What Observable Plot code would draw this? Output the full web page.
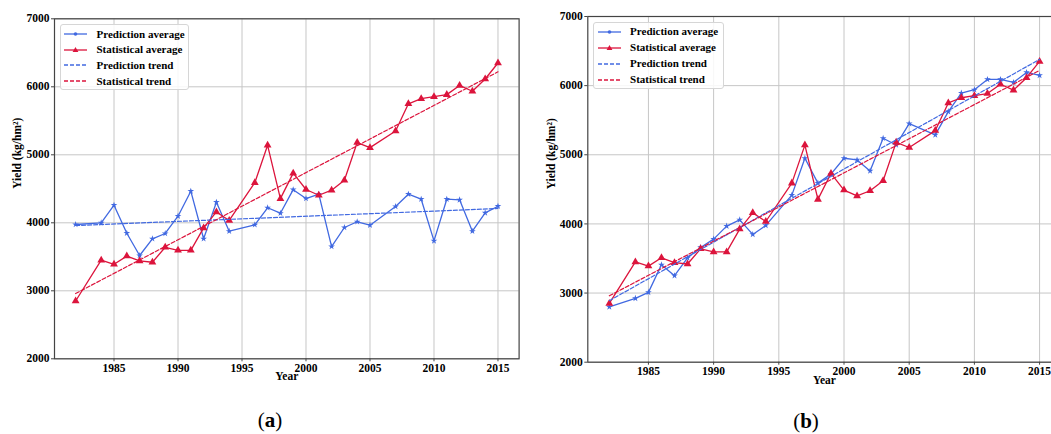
<!DOCTYPE html>
<html>
<head>
<meta charset="utf-8">
<script src="https://cdn.jsdelivr.net/npm/d3@7"></script>
<script src="https://cdn.jsdelivr.net/npm/@observablehq/plot@0.6"></script>
<style>
  html, body { margin:0; padding:0; background:#fff; overflow:hidden; }
  #root { position:relative; width:1051px; height:434px; overflow:hidden; background:#fff;
          font-family:'Liberation Serif','Times New Roman',serif; }
  .chart { position:absolute; top:0; }
  .chart svg text { font-family:'Liberation Serif','Times New Roman',serif; font-weight:bold; }
  .legend { position:absolute; border:1px solid #d6d6d6; border-radius:3px; background:rgba(255,255,255,0.85);
            box-sizing:border-box; font-weight:bold; font-size:11px; color:#000; }
  .legend .row { position:absolute; height:13px; line-height:13px; white-space:nowrap; }
  .caption { position:absolute; font-size:21px; color:#000; transform:translate(-50%,-50%); }
</style>
</head>
<body>
<div id="root"></div>
<script>
// ---- data ----
const years = [1982,1984,1985,1986,1987,1988,1989,1990,1991,1992,1993,1994,
               1996,1997,1998,1999,2000,2001,2002,2003,2004,2005,
               2007,2008,2009,2010,2011,2012,2013,2014,2015];
const statAvg = [2850,3450,3390,3510,3440,3420,3640,3595,3595,3925,4160,4035,
                 4590,5140,4355,4730,4490,4405,4480,4625,5180,5105,
                 5350,5750,5825,5855,5885,6020,5935,6115,6350];
const predAvgA = [3975,4000,4259,3847,3519,3765,3843,4097,4465,3765,4303,3876,
                  3971,4221,4141,4487,4357,4421,3651,3931,4015,3965,
                  4240,4421,4347,3735,4347,4338,3876,4147,4244];
const predAvgB = [2800,2924,3010,3410,3251,3510,3660,3780,3968,4059,3848,3978,
                  4416,4950,4590,4720,4950,4926,4767,5239,5142,5450,
                  5287,5624,5893,5941,6090,6090,6047,6191,6148];
const trendYears = [1982, 2015];
const statTrend = [2960, 6220];
const predTrendA = [3960, 4210];
const predTrendB = [2890, 6380];
const xTicks = [1985,1990,1995,2000,2005,2010,2015];
const yTicks = [2000,3000,4000,5000,6000,7000];
const legendLabels = ["Prediction average","Statistical average","Prediction trend","Statistical trend"];

const BLUE = "#4169e1", RED = "#dc143c";
const FONT = "'Liberation Serif','Times New Roman',serif";

function makeChart(pred, predTrend, o) {
  const rows = years.map((y, i) => ({year: y, pred: pred[i], stat: statAvg[i]}));
  const trend = trendYears.map((y, i) => ({year: y, pred: predTrend[i], stat: statTrend[i]}));
  return Plot.plot({
    width: o.width, height: o.height,
    marginLeft: o.ml, marginRight: o.mr, marginTop: o.mt, marginBottom: o.mb,
    style: {fontFamily: FONT, fontSize: "11px", fontWeight: "bold", color: "#000", background: "transparent", overflow: "visible"},
    x: {domain: [1980.35, 2016.65]},
    y: {domain: [2000, 7000]},
    marks: [
      Plot.gridX(xTicks, {stroke: "#c6c6c6", strokeOpacity: 1, strokeWidth: 1}),
      Plot.gridY(yTicks, {stroke: "#c6c6c6", strokeOpacity: 1, strokeWidth: 1}),
      Plot.axisX(xTicks, {tickFormat: "d", tickSize: 3, tickPadding: 2, label: null, stroke: "#444", fontSize: 11.5}),
      Plot.axisY(yTicks, {tickFormat: "d", tickSize: 3, tickPadding: 2, label: null, stroke: "#444", fontSize: 11.5}),
      Plot.line(rows, {x: "year", y: "pred", stroke: BLUE, strokeWidth: 1.3}),
      Plot.dot(rows, {x: "year", y: "pred", symbol: "star", r: 2.1, fill: BLUE}),
      Plot.line(rows, {x: "year", y: "stat", stroke: RED, strokeWidth: 1.3}),
      Plot.dot(rows, {x: "year", y: "stat", symbol: "triangle", r: 2.9, fill: RED}),
      Plot.line(trend, {x: "year", y: "pred", stroke: BLUE, strokeWidth: 1.2, strokeDasharray: "4,2"}),
      Plot.line(trend, {x: "year", y: "stat", stroke: RED, strokeWidth: 1.2, strokeDasharray: "4,2"}),
      Plot.frame({stroke: "#444", strokeWidth: 1.2}),
      Plot.text(["Year"], {frameAnchor: "bottom", dy: o.xlabDy, fontWeight: "bold", fontSize: 11.5}),
      Plot.text(["Yield (kg/hm²)"], {frameAnchor: "left", dx: o.ylabDx, rotate: -90, fontWeight: "bold", fontSize: 11.5})
    ]
  });
}

function makeLegend(box) {
  const lg = document.createElement("div");
  lg.className = "legend";
  Object.assign(lg.style, {left: box.left + "px", top: box.top + "px", width: box.w + "px", height: box.h + "px"});
  const styles = [
    {c: BLUE, dash: null, sym: "star"},
    {c: RED, dash: null, sym: "triangle"},
    {c: BLUE, dash: "4,2", sym: null},
    {c: RED, dash: "4,2", sym: null}
  ];
  legendLabels.forEach((lab, i) => {
    const cy = box.rows[i];
    const sw = document.createElementNS("http://www.w3.org/2000/svg", "svg");
    sw.setAttribute("width", 24); sw.setAttribute("height", 10);
    Object.assign(sw.style, {position: "absolute", left: box.sx + "px", top: (cy - 5) + "px", overflow: "visible"});
    const s = styles[i];
    let html = `<line x1="0" y1="5" x2="23" y2="5" stroke="${s.c}" stroke-width="1.3" ${s.dash ? `stroke-dasharray="${s.dash}"` : ""}/>`;
    if (s.sym === "star") html += `<circle cx="11.5" cy="5" r="1.8" fill="${s.c}"/>`;
    if (s.sym === "triangle") html += `<path d="M11.5,2 L14.4,7 L8.6,7 Z" fill="${s.c}"/>`;
    sw.innerHTML = html;
    lg.appendChild(sw);
    const t = document.createElement("div");
    t.className = "row";
    t.textContent = lab;
    Object.assign(t.style, {left: box.tx + "px", top: (cy - 6.5) + "px"});
    lg.appendChild(t);
  });
  return lg;
}

const root = document.getElementById("root");

const wa = document.createElement("div");
wa.className = "chart"; wa.style.left = "0px"; wa.style.width = "530px";
wa.appendChild(makeChart(predAvgA, predTrendA, {width: 530, height: 395, ml: 54, mr: 11.4, mt: 18.3, mb: 36.7, xlabDy: 21.5, ylabDx: -37}));
root.appendChild(wa);

const wb = document.createElement("div");
wb.className = "chart"; wb.style.left = "530px"; wb.style.width = "545px";
wb.appendChild(makeChart(predAvgB, predTrendB, {width: 545, height: 399, ml: 57.3, mr: 14.4, mt: 16, mb: 37.3, xlabDy: 21.5, ylabDx: -36.5}));
root.appendChild(wb);

root.appendChild(makeLegend({left: 59.5, top: 23.8, w: 129, h: 66.5, rows: [9.5, 25, 40.5, 56.3], sx: 3.5, tx: 36}));
root.appendChild(makeLegend({left: 592.8, top: 21.5, w: 131.5, h: 67.5, rows: [9.2, 25.2, 41.2, 57.2], sx: 4.5, tx: 36.3}));

function caption(letter, x, y) {
  const d = document.createElement("div");
  d.className = "caption";
  d.innerHTML = `(<b>${letter}</b>)`;
  d.style.left = x + "px"; d.style.top = y + "px";
  root.appendChild(d);
}
caption("a", 270, 420);
caption("b", 806, 421);
</script>
</body>
</html>
